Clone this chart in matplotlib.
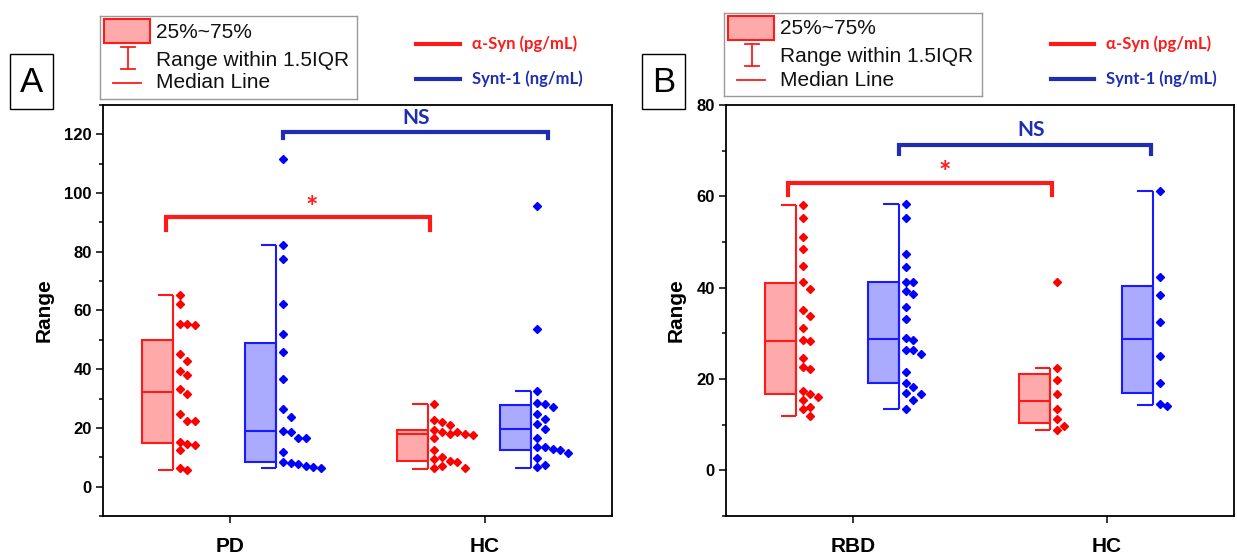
import numpy as np
import matplotlib
matplotlib.use("Agg")
import matplotlib.pyplot as plt
from matplotlib.patches import Rectangle
from matplotlib.lines import Line2D
from matplotlib.ticker import MultipleLocator

plt.rcParams["font.family"] = ["Liberation Sans", "DejaVu Sans"]

W, H = 1237, 557

##################################################################
# data
groups_a = ["PD", "HC"]
groups_b = ["RBD", "HC"]

# panel A
pd_asyn = [65.3, 62.2, 55.5, 55.5, 55.0, 45.3, 42.8, 39.4, 38.0, 33.4,
           31.5, 24.7, 22.4, 22.4, 15.3, 14.5, 14.3, 12.5, 6.3, 5.6]
pd_synt = [111.6, 82.4, 77.4, 62.2, 51.9, 45.8, 36.8, 26.3, 23.6, 19.0,
           18.5, 16.7, 16.7, 11.7, 8.5, 7.9, 7.6, 7.0, 6.6, 6.5]
hca_asyn = [28.2, 22.6, 22.1, 21.0, 19.3, 18.7, 18.7, 18.1, 18.1, 17.6,
            16.4, 12.6, 10.2, 9.3, 8.8, 8.5, 7.0, 6.3, 6.3]
hca_synt = [95.6, 53.6, 32.5, 28.4, 28.0, 27.2, 24.6, 23.0, 21.2, 19.5,
            16.4, 13.6, 13.4, 12.8, 12.6, 11.4, 9.8, 7.4, 6.6]

# panel B
rbd_asyn = [58.2, 55.2, 51.1, 48.4, 44.8, 41.3, 39.8, 35.2, 33.8, 31.2, 28.5,
            28.3, 24.6, 22.6, 22.2, 17.4, 16.8, 16.1, 15.3, 13.9, 13.5, 11.9]
rbd_synt = [58.3, 55.3, 47.3, 44.5, 41.2, 41.2, 39.2, 38.6, 35.8, 33.2, 28.9,
            28.6, 26.3, 26.3, 25.4, 21.6, 19.2, 18.3, 17.0, 16.8, 15.3, 13.5]
hcb_asyn = [41.2, 22.3, 19.7, 16.7, 13.5, 11.2, 9.7, 8.9]
hcb_synt = [61.2, 42.4, 38.4, 32.4, 25.1, 19.2, 14.5, 14.1]

# box stats: whisker low, Q1, median, Q3, whisker high
pd_asyn_box = [5.6, 15.0, 32.3, 50.1, 65.3]
pd_synt_box = [6.5, 8.3, 18.8, 48.9, 82.4]
hca_asyn_box = [6.1, 8.8, 17.8, 19.3, 28.2]
hca_synt_box = [6.5, 12.5, 19.5, 27.8, 32.5]
rbd_asyn_box = [11.9, 16.8, 28.4, 41.1, 58.2]
rbd_synt_box = [13.4, 19.2, 28.7, 41.2, 58.3]
hcb_asyn_box = [8.9, 10.4, 15.2, 21.0, 22.3]
hcb_synt_box = [14.2, 16.9, 28.8, 40.4, 61.2]
##################################################################

RED, RED_FACE = "#ff1a1a", "#ffaaaa"
BLUE, BLUE_FACE = "#1a1aff", "#aaaaff"
PT_RED, PT_BLUE = "#ff0000", "#0000ff"
DARKBLUE = "#1f2db3"

BW = 0.122      # box width (x units)
OFF_R, OFF_B = -0.285, 0.12


def fx(px):
    return px / W


def fy(py):
    return 1 - py / H


def swarm_cols(vals, gap):
    placed, cols = [], []
    for v in vals:
        k = 0
        while any(c == k and abs(v - pv) < gap for c, pv in placed):
            k += 1
        placed.append((k, v))
        cols.append(k)
    return np.array(cols)


def half_box(ax, xc, stats, vals, color, face, pcolor, ppu):
    lo, q1, med, q3, hi = stats
    ax.bar(xc, q3 - q1, bottom=q1, width=BW, color=face, edgecolor=color, lw=1.5, zorder=2)
    ax.hlines(med, xc - BW / 2, xc + BW / 2, color=color, lw=1.5, zorder=3)
    xr = xc + BW / 2
    ax.vlines(xr, lo, hi, color=color, lw=1.5, zorder=3)
    ax.hlines([lo, hi], xc, xr, color=color, lw=1.5, zorder=3)
    cols = swarm_cols(vals, 8.0 / ppu)
    xs = xr + 0.026 + cols * 0.030
    ax.plot(xs, vals, ls="none", marker="D", ms=4.0, mfc=pcolor, mec=pcolor, zorder=4)


def bracket(ax, x0, x1, y, drop, color):
    ax.plot([x0, x0, x1, x1], [y - drop, y, y, y - drop], color=color, lw=3,
            solid_joinstyle="miter", zorder=5, clip_on=False)


def setup_axes(ax, ylim, cats):
    ax.set_xlim(0.5, 2.5)
    ax.set_ylim(*ylim)
    ax.set_xticks([1, 2])
    ax.set_xticklabels(cats, fontsize=15, fontweight="bold")
    ax.yaxis.set_major_locator(MultipleLocator(20))
    ax.yaxis.set_minor_locator(MultipleLocator(10))
    ax.tick_params(axis="y", which="major", direction="out", length=5, width=1.1,
                   labelsize=12, pad=3)
    ax.tick_params(axis="y", which="minor", direction="out", length=3, width=1.1)
    ax.tick_params(axis="x", direction="out", length=5, width=1.1, pad=10)
    for lab in ax.get_yticklabels():
        lab.set_fontweight("bold")
    for s in ax.spines.values():
        s.set_linewidth(1.3)
    ax.set_ylabel("Range", fontsize=15, fontweight="bold", labelpad=8)


fig = plt.figure(figsize=(W / 100, H / 100), dpi=100)
axA = fig.add_axes([fx(103), fy(516), (612 - 103) / W, (516 - 105) / H])
axB = fig.add_axes([fx(726), fy(516), (1234 - 726) / W, (516 - 105) / H])

setup_axes(axA, (-10, 130), groups_a)
setup_axes(axB, (-10, 80), groups_b)

ppuA = axA.bbox.height / 140
ppuB = axB.bbox.height / 90

##################################################################
ax = axA
half_box(ax, 1 + OFF_R, pd_asyn_box, pd_asyn, RED, RED_FACE, PT_RED, ppuA)
half_box(ax, 1 + OFF_B, pd_synt_box, pd_synt, BLUE, BLUE_FACE, PT_BLUE, ppuA)
half_box(ax, 2 + OFF_R, hca_asyn_box, hca_asyn, RED, RED_FACE, PT_RED, ppuA)
half_box(ax, 2 + OFF_B, hca_synt_box, hca_synt, BLUE, BLUE_FACE, PT_BLUE, ppuA)
bracket(ax, 0.748, 1.785, 91.8, 4.3, RED)
bracket(ax, 1.208, 2.249, 120.7, 1.8, DARKBLUE)
ax.text(1.32, 95.0, "*", color=RED, fontsize=21, fontweight="bold", ha="center",
        va="center", family="Lato")
ax.text(1.73, 125.6, "NS", color=DARKBLUE, fontsize=15, fontweight="bold", ha="center",
        va="center", family="Lato")

##################################################################
ax = axB
half_box(ax, 1 + OFF_R, rbd_asyn_box, rbd_asyn, RED, RED_FACE, PT_RED, ppuB)
half_box(ax, 1 + OFF_B, rbd_synt_box, rbd_synt, BLUE, BLUE_FACE, PT_BLUE, ppuB)
half_box(ax, 2 + OFF_R, hcb_asyn_box, hcb_asyn, RED, RED_FACE, PT_RED, ppuB)
half_box(ax, 2 + OFF_B, hcb_synt_box, hcb_synt, BLUE, BLUE_FACE, PT_BLUE, ppuB)
bracket(ax, 0.745, 1.782, 63.0, 2.7, RED)
bracket(ax, 1.181, 2.173, 71.2, 2.0, DARKBLUE)
ax.text(1.362, 65.2, "*", color=RED, fontsize=21, fontweight="bold", ha="center",
        va="center", family="Lato")
ax.text(1.70, 74.6, "NS", color=DARKBLUE, fontsize=15, fontweight="bold", ha="center",
        va="center", family="Lato")

##################################################################
# legends and panel letters (drawn in figure pixels)
def box_legend(x0, y0, w, h):
    lax = fig.add_axes([fx(x0), fy(y0 + h), w / W, h / H])
    lax.set_xlim(0, w)
    lax.set_ylim(h, 0)
    lax.set_xticks([])
    lax.set_yticks([])
    for s in lax.spines.values():
        s.set_color("#999999")
        s.set_linewidth(1)
    lax.add_patch(Rectangle((3.5, 3), 46.5, 24, fc=RED_FACE, ec=RED, lw=1.5))
    lax.plot([28, 28], [31, 53], color=RED, lw=1.3)
    lax.plot([21, 35], [31, 31], color=RED, lw=1.3)
    lax.plot([21, 35], [53, 53], color=RED, lw=1.3)
    lax.plot([13, 41], [67, 67], color=RED, lw=1.3)
    kw = dict(fontsize=15, va="center", ha="left", color="#111111")
    lax.text(56, 16, "25%~75%", **kw)
    lax.text(56, 44, "Range within 1.5IQR", **kw)
    lax.text(56, 67, "Median Line", **kw)


def line_legend(x0, x1, xt):
    for yy, col, lab in [(44, RED, "α-Syn (pg/mL)"), (79, DARKBLUE, "Synt-1 (ng/mL)")]:
        fig.add_artist(Line2D([fx(x0), fx(x1)], [fy(yy), fy(yy)], color=col, lw=3,
                              transform=fig.transFigure))
        fig.text(fx(xt), fy(yy), lab, color=col, fontsize=12, fontweight="bold",
                 va="center", ha="left", family="Lato")


def panel_letter(x0, y0, letter):
    fig.add_artist(Rectangle((fx(x0), fy(y0 + 55)), 43 / W, 55 / H, fill=False,
                             ec="black", lw=1, transform=fig.transFigure))
    fig.text(fx(x0 + 21.5), fy(y0 + 28), letter, fontsize=25, ha="center", va="center")


box_legend(100, 16, 257, 83)
box_legend(724, 13, 258, 83)
line_legend(416, 460, 472)
line_legend(1051, 1094, 1106)
panel_letter(10, 54, "A")
panel_letter(642, 54, "B")

plt.savefig("out.png", dpi=100)
plt.close()
